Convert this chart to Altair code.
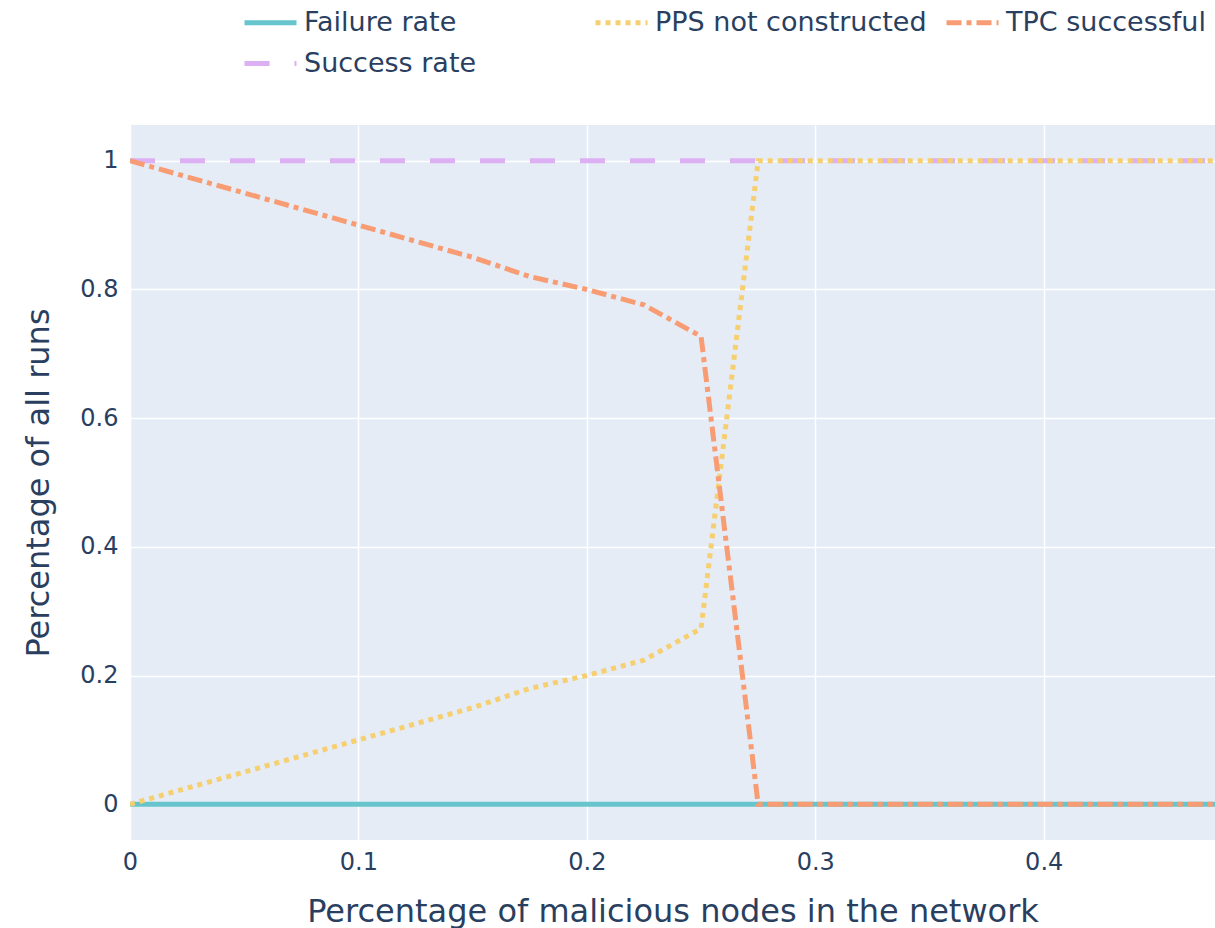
import altair as alt
import pandas as pd

# Fraction of malicious nodes (x) and outcome rates (y)
malicious = [0.0, 0.025, 0.05, 0.075, 0.1, 0.125, 0.15, 0.175, 0.2, 0.225,
             0.25, 0.275, 0.3, 0.325, 0.35, 0.375, 0.4, 0.425, 0.45, 0.475]
failure_rate = [0] * 20
success_rate = [1] * 20
pps_not_constructed = [0.0, 0.025, 0.05, 0.075, 0.1, 0.125, 0.15, 0.18, 0.2, 0.224,
                       0.273, 1, 1, 1, 1, 1, 1, 1, 1, 1]
tpc_successful = [1.0, 0.975, 0.95, 0.925, 0.9, 0.875, 0.85, 0.82, 0.8, 0.776,
                  0.727, 0, 0, 0, 0, 0, 0, 0, 0, 0]

series = {
    "Failure rate": failure_rate,
    "Success rate": success_rate,
    "PPS not constructed": pps_not_constructed,
    "TPC successful": tpc_successful,
}

frames = []
for name, vals in series.items():
    frames.append(pd.DataFrame({"x": malicious, "y": vals, "series": name}))
df = pd.concat(frames, ignore_index=True)

# legend entries, colours and dash patterns per series
legend_order = ["Failure rate", "TPC successful", "PPS not constructed", "Success rate"]
colors = ["#66C5CC", "#F89C74", "#F6CF71", "#DCB0F2"]
dashes = [[1, 0], [15, 5, 5, 5], [5, 5], [25, 25]]

font = "DejaVu Sans"
ink = "#2a3f5f"

x_enc = alt.X(
    "x:Q",
    title="Percentage of malicious nodes in the network",
    scale=alt.Scale(domain=[0, 0.475], nice=False, zero=False),
    axis=alt.Axis(values=[0, 0.1, 0.2, 0.3, 0.4], format="~g", labelPadding=10,
                  titlePadding=22, labelFlush=False),
)
y_enc = alt.Y(
    "y:Q",
    title="Percentage of all runs",
    scale=alt.Scale(domain=[-0.0556, 1.0556], nice=False, zero=False),
    axis=alt.Axis(values=[0, 0.2, 0.4, 0.6, 0.8, 1], format="~g", labelPadding=12,
                  titlePadding=24, labelFlush=False),
)
color_enc = alt.Color(
    "series:N",
    sort=legend_order,
    scale=alt.Scale(domain=legend_order, range=colors),
    legend=alt.Legend(
        title=None,
        values=legend_order,
        orient="none",
        legendX=112,
        legendY=-118,
        columns=3,
        gridAlign="all",
        columnPadding=9,
        rowPadding=12,
        padding=0,
        symbolType="M-1,0H3",
        symbolSize=676,
        symbolStrokeWidth=5,
        labelOffset=31,
        labelFont=font,
        labelFontSize=27,
        labelColor=ink,
        labelLimit=400,
    ),
)
dash_enc = alt.StrokeDash(
    "series:N",
    sort=legend_order,
    scale=alt.Scale(domain=legend_order, range=dashes),
    legend=None,
)

layers = []
for name in series:
    layers.append(
        alt.Chart(df)
        .transform_filter(alt.datum.series == name)
        .mark_line(strokeWidth=5, clip=True)
        .encode(x=x_enc, y=y_enc, color=color_enc, strokeDash=dash_enc)
    )

chart = (
    alt.layer(*layers)
    .resolve_legend(color="shared", strokeDash="shared")
    .properties(
        width=1085,
        height=715,
        autosize=alt.AutoSizeParams(type="none"),
        padding={"left": 130, "top": 125, "right": 0, "bottom": 88},
    )
    .configure_view(fill="#E5ECF6", stroke=None)
    .configure_axis(
        grid=True,
        gridColor="white",
        gridWidth=1.5,
        domain=False,
        ticks=False,
        labelFont=font,
        labelFontSize=24,
        labelColor=ink,
        titleFont=font,
        titleFontSize=32,
        titleFontWeight="normal",
        titleColor=ink,
    )
)

chart.save("out.html", embed_options={"renderer": "svg", "actions": False})
